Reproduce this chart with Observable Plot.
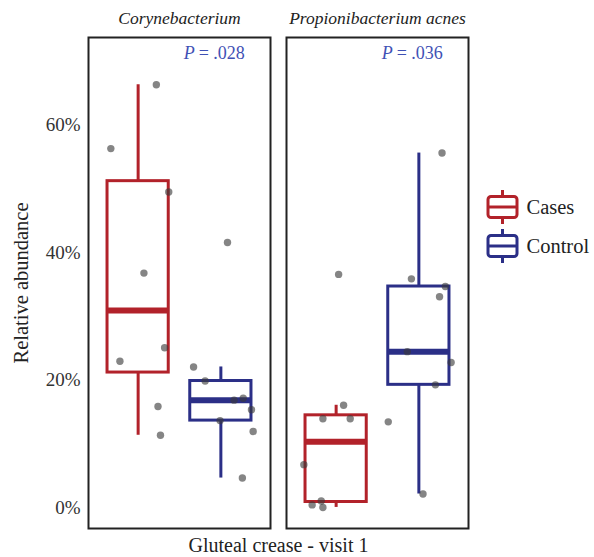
<!DOCTYPE html>
<html><head><meta charset="utf-8">
<script src="https://cdn.jsdelivr.net/npm/d3@7"></script>
<script src="https://cdn.jsdelivr.net/npm/@observablehq/plot@0.6"></script>
<style>
body{margin:0;background:#fff;}
#wrap{position:relative;width:594px;height:557px;font-family:"Liberation Serif",serif;}
#wrap svg, #wrap svg text{font-family:"Liberation Serif",serif !important;}
#legend{position:absolute;left:480px;top:183px;}
</style></head><body>
<div id="wrap"></div>
<script>
const taxa = ["Corynebacterium", "Propionibacterium acnes"];
const groups = ["Cases", "Control"];
const groupColors = ["#B2222A", "#2B2F87"];
const pValues = [".028", ".036"];
const yTicks = [0, 20, 40, 60];
const xTitle = "Gluteal crease - visit 1";
const yTitle = "Relative abundance";

// relative abundance (%) per sample, with horizontal jitter
const coryCases = [66.3, 56.3, 49.5, 36.8, 25.1, 23.0, 15.9, 11.4];
const coryCasesJitter = [0.22, -0.33, 0.37, 0.07, 0.32, -0.22, 0.24, 0.27];
const coryControl = [41.6, 22.1, 19.9, 17.2, 16.9, 15.4, 13.7, 12.0, 4.7];
const coryControlJitter = [0.08, -0.33, -0.19, 0.27, 0.16, 0.37, -0.01, 0.39, 0.26];
const acnesCases = [36.6, 16.1, 14.0, 14.0, 6.8, 1.1, 0.5, 0.1];
const acnesCasesJitter = [0.03, 0.09, -0.16, 0.17, -0.39, -0.18, -0.29, -0.16];
const acnesControl = [55.6, 35.9, 34.7, 33.1, 24.5, 22.8, 19.3, 13.5, 2.2];
const acnesControlJitter = [0.28, -0.09, 0.32, 0.25, -0.14, 0.39, 0.20, -0.37, 0.05];

const sets = [
  {taxon: taxa[0], group: groups[0], values: coryCases, jitter: coryCasesJitter},
  {taxon: taxa[0], group: groups[1], values: coryControl, jitter: coryControlJitter},
  {taxon: taxa[1], group: groups[0], values: acnesCases, jitter: acnesCasesJitter},
  {taxon: taxa[1], group: groups[1], values: acnesControl, jitter: acnesControlJitter}
];
const color = g => groupColors[groups.indexOf(g)];
const pos = g => groups.indexOf(g) + 1;
const halfW = 0.37;

const points = sets.flatMap(s => s.values.map((v, i) => ({taxon: s.taxon, group: s.group, value: v, jx: pos(s.group) + s.jitter[i]})));
const stats = sets.map(s => {
  const v = [...s.values].sort(d3.ascending);
  const q1 = d3.quantile(v, 0.25), q3 = d3.quantile(v, 0.75), med = d3.quantile(v, 0.5);
  const iqr = q3 - q1;
  const lo = d3.min(v.filter(d => d >= q1 - 1.5 * iqr));
  const hi = d3.max(v.filter(d => d <= q3 + 1.5 * iqr));
  const p = pos(s.group);
  return {taxon: s.taxon, group: s.group, q1, q3, med, lo, hi, p, x1: p - halfW, x2: p + halfW, c: color(s.group)};
});
const pData = taxa.map((t, i) => ({taxon: t, p: pValues[i]}));

const chart = Plot.plot({
  width: 594, height: 557,
  marginTop: 37, marginBottom: 29, marginLeft: 87, marginRight: 125,
  fx: {domain: taxa, paddingInner: 0.0804, paddingOuter: 0, label: null},
  x: {domain: [0.4, 2.6], axis: null},
  y: {domain: [-3.2, 73.7]},
  style: {fontFamily: "'Liberation Serif', serif", fontSize: "19px", background: "white", color: "#222"},
  marks: [
    Plot.axisFx({anchor: "top", tickSize: 0, tickPadding: 14, fontStyle: "italic", fontSize: 17.5, label: null}),
    Plot.axisFx({anchor: "bottom", ticks: [], tickSize: 0, label: xTitle, labelAnchor: "center", labelArrow: "none", labelOffset: 23, fontSize: 20}),
    Plot.axisY({ticks: yTicks, tickSize: 0, tickPadding: 8, tickFormat: d => d + "%", fontSize: 19, fill: "#333", label: null}),
    Plot.axisY({ticks: [], tickSize: 0, fontSize: 20.5, label: yTitle, labelAnchor: "center", labelArrow: "none", labelOffset: 75}),
    Plot.ruleX(stats, {fx: "taxon", x: "p", y1: "lo", y2: "q1", stroke: "c", strokeWidth: 3}),
    Plot.ruleX(stats, {fx: "taxon", x: "p", y1: "q3", y2: "hi", stroke: "c", strokeWidth: 3}),
    Plot.rect(stats, {fx: "taxon", x1: "x1", x2: "x2", y1: "q1", y2: "q3", fill: "white", stroke: "c", strokeWidth: 3}),
    Plot.ruleY(stats, {fx: "taxon", y: "med", x1: "x1", x2: "x2", stroke: "c", strokeWidth: 6}),
    Plot.dot(points, {fx: "taxon", x: "jx", y: "value", r: 3.7, fill: "#3a3a3a", fillOpacity: 0.62, stroke: "none"}),
    Plot.text(pData, {fx: "taxon", x: 2.29, y: 71.2, text: d => "= " + d.p, textAnchor: "end", fill: "#3F51B5", fontSize: 18}),
    Plot.text(pData, {fx: "taxon", x: 2.29, y: 71.2, text: () => "P", dx: -50, textAnchor: "end", fill: "#3F51B5", fontSize: 18, fontStyle: "italic"}),
    Plot.frame({stroke: "#222", strokeWidth: 2})
  ]
});
const wrap = document.getElementById("wrap");
wrap.appendChild(chart);

// legend
const lg = d3.select(wrap).append("svg").attr("id", "legend").attr("width", 114).attr("height", 90)
  .style("font-family", "'Liberation Serif', serif");
groups.forEach((g, i) => {
  const top = 13.5 + i * 39, h = 21, cx = 22.5;
  const gg = lg.append("g").attr("stroke", groupColors[i]).attr("stroke-width", 3).attr("fill", "white");
  gg.append("line").attr("x1", cx).attr("x2", cx).attr("y1", top - 6.5).attr("y2", top + h + 6.5);
  gg.append("rect").attr("x", 8).attr("y", top).attr("width", 29).attr("height", h).attr("rx", 3);
  gg.append("line").attr("x1", 8).attr("x2", 37).attr("y1", top + h / 2).attr("y2", top + h / 2);
  lg.append("text").attr("x", 46.5).attr("y", top + h / 2 + 7).attr("font-size", 20.5).attr("fill", "#222").text(g);
});
</script>
</body></html>
